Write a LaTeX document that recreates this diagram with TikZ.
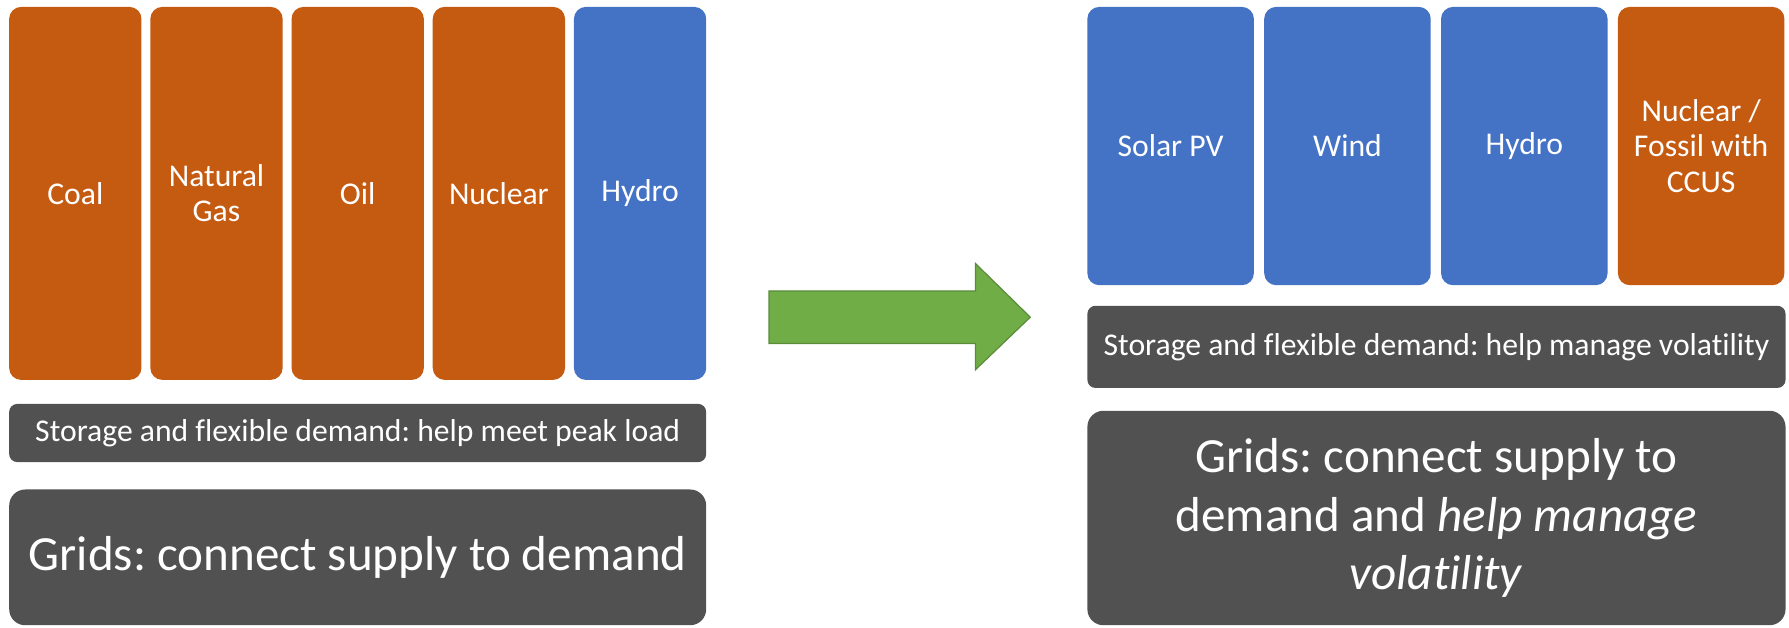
\documentclass[tikz,border=0pt]{standalone}
\usepackage{fontspec}
\setmainfont[Ligatures=NoCommon]{Carlito}
\frenchspacing
\definecolor{orng}{HTML}{C55A11}
\definecolor{blu}{HTML}{4472C4}
\definecolor{dgray}{HTML}{515151}
\definecolor{grn}{HTML}{70AD47}
\definecolor{grnd}{HTML}{5A8C3A}
\tikzset{
  srcbox/.style={rounded corners=6pt, inner sep=2pt, text=white, align=center, font=\fontsize{15.8}{17.6}\selectfont},
  orbox/.style={srcbox, fill=orng},
  blbox/.style={srcbox, fill=blu},
  stbox/.style={rounded corners=4pt, fill=dgray, text=white, align=center, inner sep=0pt, font=\fontsize{15.8}{17.6}\selectfont},
  grbox/.style={rounded corners=8pt, fill=dgray, text=white, align=center, inner sep=0pt, font=\fontsize{24.5}{29.2}\selectfont}
}
\begin{document}
\begin{tikzpicture}[x=0.02cm,y=-0.02cm]
\useasboundingbox (0,0) rectangle (1568,549.6);
% left
\node[orbox, minimum width=2.32cm, minimum height=6.54cm] (coal) at (66,169.5) {Coal};
\node[orbox, minimum width=2.32cm, minimum height=6.54cm] (gas) at (189.75,169.5) {Natural\\Gas};
\node[orbox, minimum width=2.32cm, minimum height=6.54cm] (oil) at (313.5,169.5) {Oil};
\node[orbox, minimum width=2.32cm, minimum height=6.54cm] (nuc) at (437.25,169.5) {Nuclear};
\node[blbox, minimum width=2.32cm, minimum height=6.54cm] (hyd) at (561,169.5) {Hydro};
\node[stbox, minimum width=12.22cm, minimum height=1.02cm] (stl) at (313.5,379.5) {Storage and flexible demand: help meet peak load};
\node[grbox, minimum width=12.22cm, minimum height=2.38cm] (grl) at (313.5,488.5) {Grids: connect supply to demand};
% arrow
\fill[grn, draw=grnd, line width=0.6pt] (674,255) -- (855,255) -- (855,231) -- (903,278) -- (855,324) -- (855,301) -- (674,301) -- cycle;
% right
\node[blbox, minimum width=2.92cm, minimum height=4.88cm] (sol) at (1026,128) {Solar PV};
\node[blbox, minimum width=2.92cm, minimum height=4.88cm] (wind) at (1181,128) {Wind};
\node[blbox, minimum width=2.92cm, minimum height=4.88cm] (hydr) at (1336,128) {Hydro};
\node[orbox, minimum width=2.92cm, minimum height=4.88cm] (nfc) at (1491,128) {Nuclear /\\Fossil with\\CCUS};
\node[stbox, minimum width=12.24cm, minimum height=1.44cm] (str) at (1259,304) {Storage and flexible demand: help manage volatility};
\node[grbox, minimum width=12.24cm, minimum height=3.76cm] (grr) at (1259,454) {Grids: connect supply to\\demand and \textit{help manage}\\\textit{volatility}};
\end{tikzpicture}
\end{document}
